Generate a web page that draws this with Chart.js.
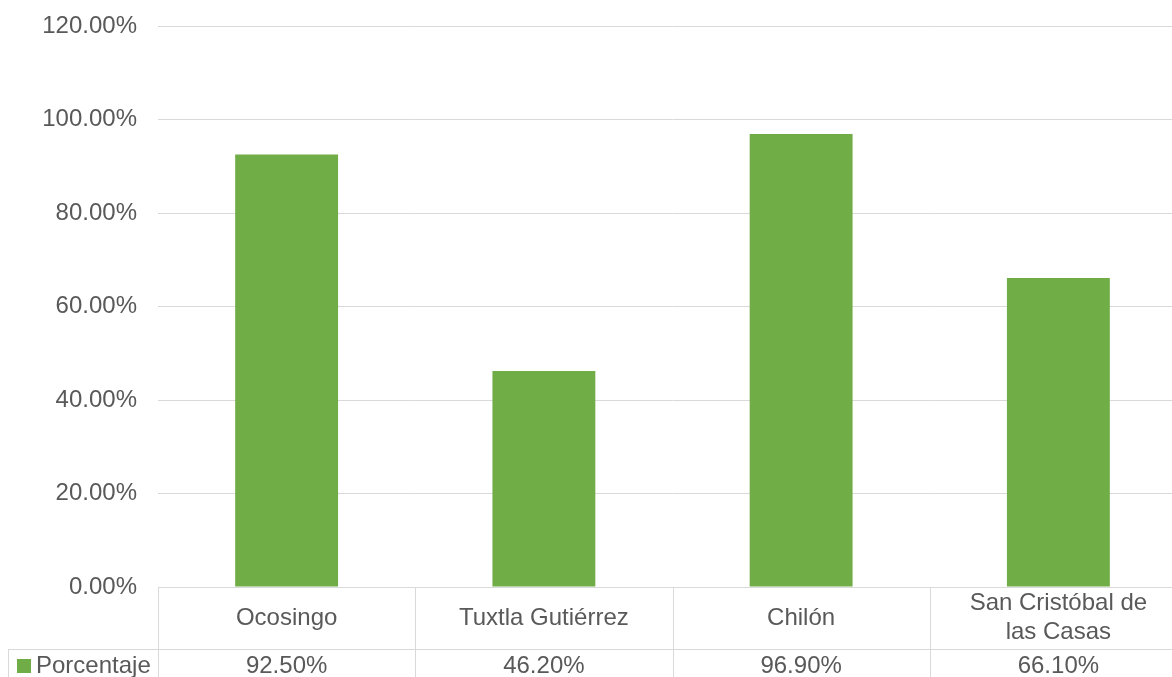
<!DOCTYPE html>
<html>
<head>
<meta charset="utf-8">
<title>Porcentaje por municipio</title>
<script src="https://cdn.jsdelivr.net/npm/chart.js@4"></script>
<style>
  html, body { margin: 0; padding: 0; background: #ffffff; overflow: hidden; }
  #wrap { width: 1200px; height: 677px; }
</style>
</head>
<body>
<div id="wrap"><canvas id="chart" width="1200" height="677"></canvas></div>
<script>
const municipios = ['Ocosingo', 'Tuxtla Gutiérrez', 'Chilón', ['San Cristóbal de', 'las Casas']];
const porcentaje = [92.5, 46.2, 96.9, 66.1];
const serieNombre = 'Porcentaje';
const yTicks = [0, 20, 40, 60, 80, 100, 120];

const verde = '#70AD47';
const gris = '#d9d9d9';
const texto = '#595959';
const fuente = '"Liberation Sans", Arial, sans-serif';

// data table under the plot: category row, then the series row with its key
const tablaDatos = {
  id: 'tablaDatos',
  afterDraw(chart) {
    const ctx = chart.ctx;
    const x = chart.scales.x;
    const top = chart.chartArea.bottom;
    const fila1 = top + 62;
    const bottom = chart.height + 20;
    const ancho = x.width / municipios.length;

    ctx.save();
    ctx.strokeStyle = gris;
    ctx.lineWidth = 1;
    ctx.beginPath();
    ctx.moveTo(x.left, top + 0.5);
    ctx.lineTo(chart.width, top + 0.5);
    ctx.moveTo(8, fila1 + 0.5);
    ctx.lineTo(chart.width, fila1 + 0.5);
    ctx.moveTo(8.5, fila1);
    ctx.lineTo(8.5, bottom);
    for (let i = 0; i < municipios.length; i++) {
      const xl = Math.round(x.getPixelForValue(i) - ancho / 2) + 0.5;
      ctx.moveTo(xl, top);
      ctx.lineTo(xl, bottom);
    }
    ctx.stroke();

    ctx.fillStyle = texto;
    ctx.font = '24px ' + fuente;
    ctx.textAlign = 'center';
    ctx.textBaseline = 'middle';
    municipios.forEach((m, i) => {
      const cx = x.getPixelForValue(i);
      const lineas = Array.isArray(m) ? m : [m];
      const alto = 29;
      const y0 = (top + fila1) / 2 - (lineas.length - 1) * alto / 2;
      lineas.forEach((l, j) => ctx.fillText(l, cx, y0 + j * alto));
      ctx.fillText(porcentaje[i].toFixed(2) + '%', cx, fila1 + 17);
    });

    ctx.fillStyle = verde;
    ctx.fillRect(17, fila1 + 10, 14, 14);
    ctx.fillStyle = texto;
    ctx.textAlign = 'left';
    ctx.fillText(serieNombre, 36, fila1 + 17);
    ctx.restore();
  }
};

new Chart(document.getElementById('chart').getContext('2d'), {
  type: 'bar',
  data: {
    labels: municipios,
    datasets: [{
      label: serieNombre,
      data: porcentaje,
      backgroundColor: verde,
      barPercentage: 0.4,
      categoryPercentage: 1
    }]
  },
  options: {
    responsive: false,
    animation: false,
    layout: { padding: { top: 26, bottom: 82, left: 0, right: 13 } },
    plugins: {
      legend: { display: false },
      tooltip: { enabled: false }
    },
    scales: {
      x: {
        ticks: { display: false },
        grid: { display: false },
        border: { display: false }
      },
      y: {
        min: 0,
        max: 120,
        afterBuildTicks: s => { s.ticks = yTicks.map(v => ({ value: v })); },
        afterFit: s => {
          s.width = 158;
          s.paddingTop = 0;
          s.paddingBottom = 0;
        },
        ticks: {
          color: texto,
          padding: 21,
          font: { family: fuente, size: 24 },
          callback: v => v.toFixed(2) + '%'
        },
        grid: { color: gris, drawTicks: false },
        border: { display: false }
      }
    }
  },
  plugins: [tablaDatos]
});
</script>
</body>
</html>
